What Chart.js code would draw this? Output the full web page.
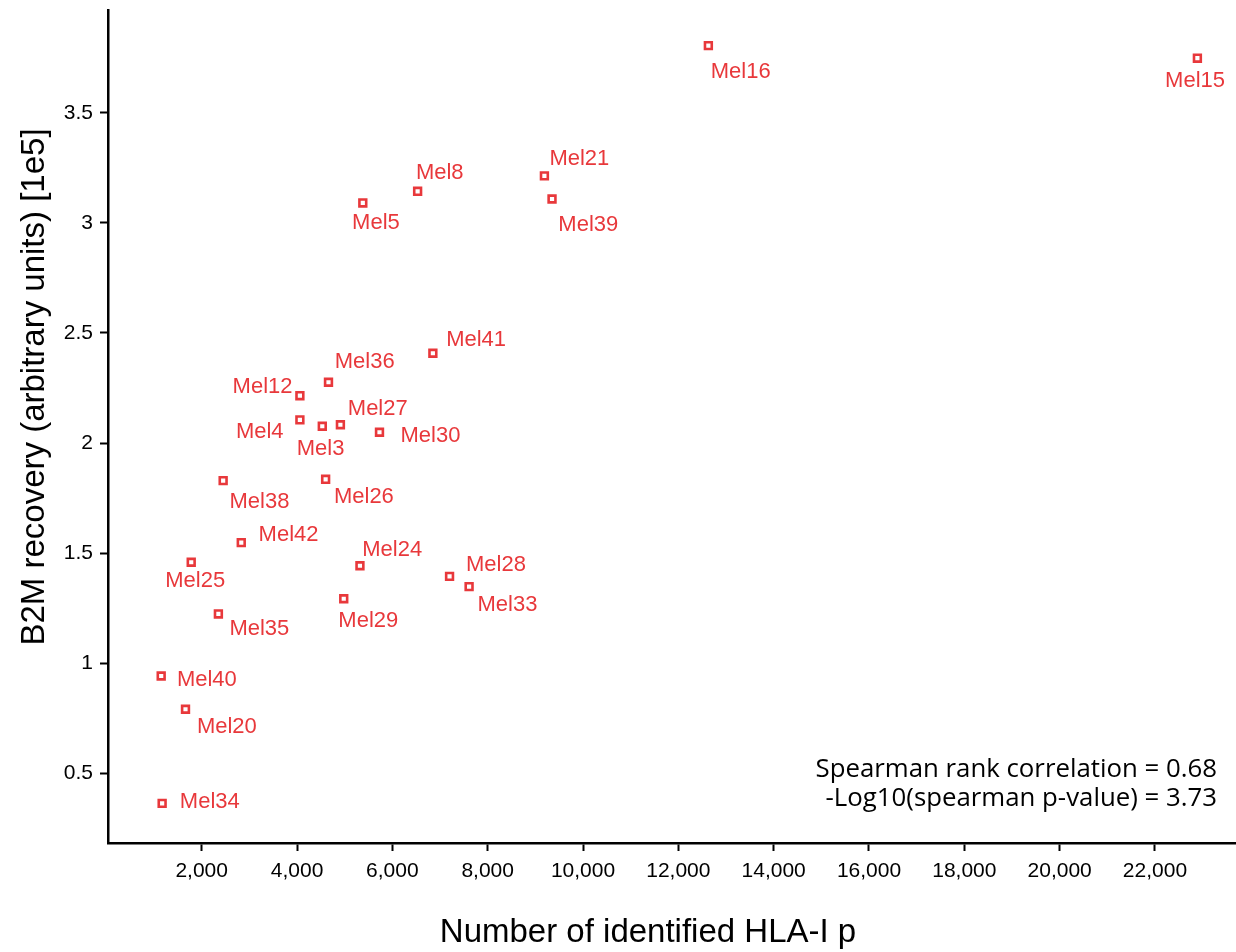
<!DOCTYPE html>
<html>
<head>
<meta charset="utf-8">
<script src="https://cdn.jsdelivr.net/npm/chart.js@4/dist/chart.umd.min.js"></script>
<style>
  html, body { margin: 0; padding: 0; background: #fff; }
  #wrap { width: 1236px; height: 952px; position: relative; }
</style>
</head>
<body>
<div id="wrap"><canvas id="c" width="1236" height="952"></canvas></div>
<script>
// Samples, HLA-I peptide counts and B2M recovery (x1e5)
const samples = ['Mel16','Mel15','Mel21','Mel8','Mel39','Mel5','Mel41','Mel36','Mel12','Mel4','Mel27','Mel3','Mel30',
                 'Mel26','Mel38','Mel42','Mel25','Mel24','Mel28','Mel33','Mel29','Mel35','Mel40','Mel20','Mel34'];
const peptideCounts = [12630, 22890, 9190, 6530, 9350, 5380, 6850, 4660, 4060, 4060, 4910, 4530, 5730,
                       4600, 2450, 2830, 1780, 5320, 7200, 7610, 4980, 2350, 1150, 1660, 1170];
const b2mRecovery = [3.806, 3.749, 3.214, 3.144, 3.109, 3.091, 2.408, 2.276, 2.215, 2.105, 2.083, 2.076, 2.049,
                     1.835, 1.829, 1.547, 1.458, 1.442, 1.394, 1.347, 1.292, 1.223, 0.941, 0.790, 0.362];

const xTickValues = [2000, 4000, 6000, 8000, 10000, 12000, 14000, 16000, 18000, 20000, 22000];
const yTickValues = [0.5, 1, 1.5, 2, 2.5, 3, 3.5];

const xTitle = 'Number of identified HLA-I p';
const yTitle = 'B2M recovery (arbitrary units) [1e5]';
const statsLines = ['Spearman rank correlation = 0.68', '-Log10(spearman p-value) = 3.73'];

// Where each sample name sits relative to its marker: [left edge dx, cap-centre dy] in px
const labelPlacement = {
  Mel16: [2.4, 24.8],  Mel15: [-32.3, 20.5], Mel21: [5, -18.5],  Mel8: [-1.7, -20.3],
  Mel39: [6.3, 24],    Mel5: [-10.7, 18],    Mel41: [13.3, -15.3], Mel36: [6.3, -22.3],
  Mel12: [-67.3, -10.2], Mel4: [-64, 10],    Mel27: [7.4, -17.7], Mel3: [-25.6, 21.2],
  Mel30: [21, 2.4],    Mel26: [8.3, 15.7],   Mel38: [6.3, 19.3],  Mel42: [17.3, -9.4],
  Mel25: [-26, 16.4],  Mel24: [2.3, -18],    Mel28: [16.4, -13.6], Mel33: [8.4, 16.3],
  Mel29: [-5.4, 20],   Mel35: [11, 13],      Mel40: [15.7, 2],    Mel20: [11.4, 15.7],
  Mel34: [17.7, -2.8]
};

const RED = '#e8383b';
const SANS = '"Liberation Sans", Arial, Helvetica, sans-serif';

const points = samples.map((s, i) => ({ x: peptideCounts[i], y: b2mRecovery[i] }));

// keep the plot area fixed: no extra room reserved for edge tick labels
function fixAxisBox(size, prop) {
  return function (scale) {
    scale[prop] = size;
    scale.paddingTop = 0; scale.paddingBottom = 0;
    scale.paddingLeft = 0; scale.paddingRight = 0;
  };
}

const sampleLabels = {
  id: 'sampleLabels',
  afterDatasetsDraw(chart) {
    const ctx = chart.ctx;
    const meta = chart.getDatasetMeta(0);
    ctx.save();
    ctx.fillStyle = RED;
    ctx.font = '22px ' + SANS;
    ctx.textAlign = 'left';
    ctx.textBaseline = 'alphabetic';
    meta.data.forEach((el, i) => {
      const [dx, dy] = labelPlacement[samples[i]] || [8, 0];
      ctx.fillText(samples[i], el.x + dx, el.y + dy + 0.358 * 22);
    });
    ctx.restore();
  }
};

const titlesAndStats = {
  id: 'titlesAndStats',
  afterDraw(chart) {
    const ctx = chart.ctx;
    ctx.save();
    ctx.fillStyle = '#000';
    ctx.font = '33px ' + SANS;
    ctx.textAlign = 'center';
    ctx.textBaseline = 'alphabetic';
    ctx.fillText(xTitle, 648, 942);
    ctx.translate(44, 387);
    ctx.rotate(-Math.PI / 2);
    ctx.fillText(yTitle, 0, 0);
    ctx.restore();

    ctx.save();
    ctx.fillStyle = '#000';
    ctx.font = '25.8px "Open Sans", "Noto Sans", sans-serif';
    ctx.textAlign = 'right';
    ctx.textBaseline = 'alphabetic';
    ctx.fillText(statsLines[0], 1217, 777);
    ctx.fillText(statsLines[1], 1217, 806);
    ctx.restore();
  }
};

new Chart(document.getElementById('c'), {
  type: 'scatter',
  data: {
    datasets: [{
      data: points,
      pointStyle: 'rect',
      pointRadius: 4.8,
      pointHoverRadius: 4.8,
      borderColor: RED,
      backgroundColor: '#fff',
      borderWidth: 2.6,
      showLine: false
    }]
  },
  options: {
    responsive: false,
    animation: false,
    events: [],
    layout: { autoPadding: false, padding: { top: 10, right: 0, left: 0, bottom: 0 } },
    plugins: { legend: { display: false }, tooltip: { enabled: false } },
    scales: {
      x: {
        type: 'linear',
        min: 34,
        max: 23700,
        afterBuildTicks(scale) { scale.ticks = xTickValues.map(v => ({ value: v })); },
        afterFit: fixAxisBox(109, 'height'),
        border: { display: true, color: '#000', width: 2.5 },
        grid: { drawOnChartArea: false, drawTicks: true, tickLength: 8, tickWidth: 2, tickColor: '#000' },
        ticks: {
          color: '#000', padding: 8, maxRotation: 0, autoSkip: false,
          font: { family: SANS, size: 21 },
          callback: v => v.toLocaleString('en-US')
        }
      },
      y: {
        type: 'linear',
        min: 0.182,
        max: 3.968,
        afterBuildTicks(scale) { scale.ticks = yTickValues.map(v => ({ value: v })); },
        afterFit: fixAxisBox(108, 'width'),
        border: { display: true, color: '#000', width: 2.5 },
        grid: { drawOnChartArea: false, drawTicks: true, tickLength: 8, tickWidth: 2, tickColor: '#000' },
        ticks: {
          color: '#000', padding: 7, autoSkip: false,
          font: { family: SANS, size: 21 },
          callback: v => String(v)
        }
      }
    }
  },
  plugins: [sampleLabels, titlesAndStats]
});
</script>
</body>
</html>
